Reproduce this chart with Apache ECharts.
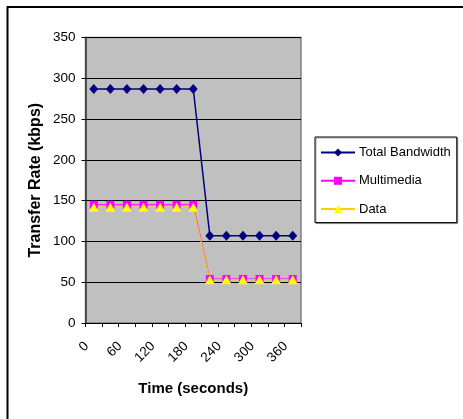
<!DOCTYPE html>
<html>
<head>
<meta charset="utf-8">
<script src="https://cdn.jsdelivr.net/npm/echarts@6/dist/echarts.min.js"></script>
<style>
html,body{margin:0;padding:0;background:#fff;}
#c{width:463px;height:419px;}
</style>
</head>
<body>
<div id="c"></div>
<script>
const categories = ['0','30','60','90','120','150','180','210','240','270','300','330','360'];
const totalBandwidth = [287,287,287,287,287,287,287,107,107,107,107,107,107];
const multimedia = [145,145,145,145,145,145,145,54,54,54,54,54,54];
const dataSeries = [142,142,142,142,142,142,142,53,53,53,53,53,53];
const yTicks = {min:0, max:350, interval:50};

const FONT = 'Liberation Sans, Arial, sans-serif';
const chart = echarts.init(document.getElementById('c'), null, {renderer:'canvas'});
chart.setOption({
  animation:false,
  backgroundColor:'#fff',
  textStyle:{fontFamily:FONT},
  graphic:[{
    type:'rect', silent:true, z:-1,
    shape:{x:7.5,y:7,width:520,height:520},
    style:{fill:'none',stroke:'#000',lineWidth:2}
  }],
  grid:{left:85.5,top:37.5,width:215.5,height:285.5,show:true,
        backgroundColor:'#C0C0C0',borderColor:'#808080',borderWidth:1.5},
  legend:{
    orient:'vertical', left:315, top:137,
    padding:[9,6,7,5], itemGap:15.3, itemWidth:34, itemHeight:10,
    borderColor:'#000', borderWidth:1,
    shadowColor:'rgba(0,0,0,0.35)', shadowOffsetX:1, shadowOffsetY:1, shadowBlur:0,
    backgroundColor:'#fff',
    textStyle:{fontSize:13,color:'#000',fontFamily:FONT,padding:[0,0,0,-1]},
    data:['Total Bandwidth','Multimedia','Data']
  },
  xAxis:{
    type:'category', data:categories, boundaryGap:true,
    name:'Time (seconds)', nameLocation:'middle', nameGap:58,
    nameTextStyle:{fontSize:15,fontWeight:'bold',color:'#000',fontFamily:FONT},
    axisLine:{lineStyle:{color:'#000',width:1}},
    axisTick:{show:true,interval:0,length:4,inside:false,lineStyle:{color:'#000'}},
    axisLabel:{interval:1,rotate:45,fontSize:13.5,color:'#000',margin:14,padding:[0,10,0,0],fontFamily:FONT},
    splitLine:{show:false}
  },
  yAxis:{
    type:'value', min:yTicks.min, max:yTicks.max, interval:yTicks.interval,
    name:'Transfer Rate (kbps)', nameLocation:'middle', nameGap:42,
    nameTextStyle:{fontSize:16,fontWeight:'bold',color:'#000',fontFamily:FONT},
    axisLine:{show:true,lineStyle:{color:'#333',width:1.5}},
    axisTick:{show:true,length:4,lineStyle:{color:'#000'}},
    axisLabel:{fontSize:13.5,color:'#000',margin:10,fontFamily:FONT},
    splitLine:{show:true,lineStyle:{color:'#000',width:1}}
  },
  series:[
    {name:'Total Bandwidth',type:'line',data:totalBandwidth,symbol:'diamond',symbolSize:[9,10],
     itemStyle:{color:'#000080'},lineStyle:{color:'#000080',width:1.5}},
    {name:'Multimedia',type:'line',data:multimedia,symbol:'rect',symbolSize:8,
     itemStyle:{color:'#FF00FF'},lineStyle:{color:'#FF00FF',width:1}},
    {name:'Data',type:'line',data:dataSeries,symbol:'triangle',symbolSize:[10,9],
     itemStyle:{color:'#FFFF00'},lineStyle:{color:'#FFD000',width:1}}
  ]
});
</script>
</body>
</html>
